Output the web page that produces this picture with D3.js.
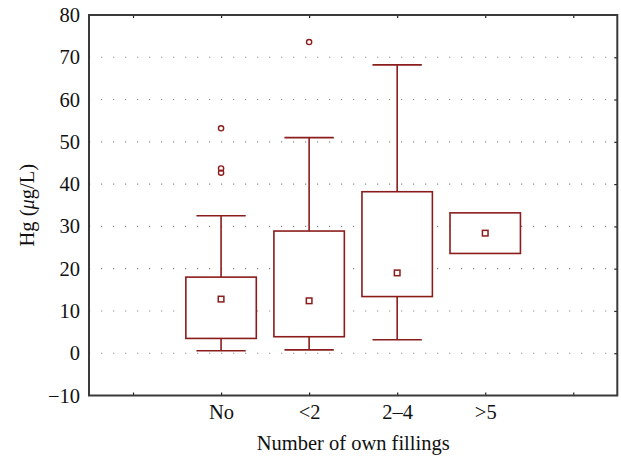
<!DOCTYPE html>
<html>
<head>
<meta charset="utf-8">
<script src="https://cdn.jsdelivr.net/npm/d3@7"></script>
<style>
  html, body { margin: 0; padding: 0; background: #fff; }
  svg { display: block; }
  text { font-family: "Liberation Serif", "DejaVu Serif", serif; fill: #111; }
</style>
</head>
<body>
<svg id="chart" width="621" height="457"></svg>
<script>
// ---- data ----
const categories = ["No", "<2", "2–4", ">5"];
const slotLabels = ["", "No", "<2", "2–4", ">5", ""];
const whiskerLow  = [0.6, 0.8, 3.2, 23.6];
const boxLow      = [3.5, 3.9, 13.4, 23.6];
const medians     = [12.8, 12.4, 19.0, 28.4];
const boxHigh     = [18.0, 28.9, 38.2, 33.2];
const whiskerHigh = [32.5, 51.0, 68.2, 33.2];
const outliers    = [[53.2, 43.7, 42.7], [73.6], [], []];
const yTicks = [-10, 0, 10, 20, 30, 40, 50, 60, 70, 80];
const gridValues = [0, 10, 20, 30, 40, 50, 60, 70];

// ---- layout ----
const pL = 89, pR = 617.3, pT = 15, pB = 395.5;
const color = "#8b1c1c";
const fs = "20.5px";
const svg = d3.select("#chart");

const x = d3.scaleLinear().domain([0.5, slotLabels.length + 0.5]).range([pL, pR]);
const y = d3.scaleLinear().domain([-10, 80]).range([pB, pT]);
const slotW = x(2) - x(1);
const catPos = i => x(i + 2);

// gridlines
svg.append("g").selectAll("line").data(gridValues).join("line")
  .attr("x1", pL).attr("x2", pR)
  .attr("y1", d => y(d)).attr("y2", d => y(d))
  .attr("stroke", "#8a8a8a").attr("stroke-width", 1.1)
  .attr("stroke-dasharray", "1.2,10.8");

// y axis labels
const yAxis = d3.axisLeft(y).tickValues(yTicks).tickSize(0).tickPadding(9)
  .tickFormat(d3.format("d"));
const gy = svg.append("g").attr("transform", `translate(${pL},0)`).call(yAxis);
gy.select(".domain").remove();
gy.selectAll("text").style("font-size", fs).attr("fill", "#111")
  .style("font-family", '"Liberation Serif", serif');

// right axis inward ticks
const rAxis = d3.axisRight(y).tickValues(gridValues).tickSize(-3).tickFormat("");
const gr = svg.append("g").attr("transform", `translate(${pR},0)`).call(rAxis);
gr.select(".domain").remove();
gr.selectAll("line").attr("stroke", "#222").attr("stroke-width", 1.2);

// bottom axis with category labels
const slotTicks = slotLabels.map((d, i) => i + 1);
const xAxis = d3.axisBottom(x).tickValues(slotTicks).tickSize(-3).tickPadding(9)
  .tickFormat((d, i) => slotLabels[i]);
const gx = svg.append("g").attr("transform", `translate(0,${pB})`).call(xAxis);
gx.select(".domain").remove();
gx.selectAll("line").attr("stroke", "#222").attr("stroke-width", 1.2);
gx.selectAll("text").style("font-size", fs).attr("fill", "#111")
  .style("font-family", '"Liberation Serif", serif');

// top axis inward ticks
const tAxis = d3.axisTop(x).tickValues(slotTicks).tickSize(-3).tickFormat("");
const gt = svg.append("g").attr("transform", `translate(0,${pT})`).call(tAxis);
gt.select(".domain").remove();
gt.selectAll("line").attr("stroke", "#222").attr("stroke-width", 1.2);

// frame
svg.append("rect").attr("x", pL).attr("y", pT)
  .attr("width", pR - pL).attr("height", pB - pT)
  .attr("fill", "none").attr("stroke", "#3a3a3a").attr("stroke-width", 2);

// boxes
const boxW = slotW * 0.8, capW = slotW * 0.56;
const g = svg.append("g");
categories.forEach((c, i) => {
  const cx = catPos(i);
  const gg = g.append("g").attr("stroke", color).attr("fill", "none").attr("stroke-width", 1.6);
  if (whiskerHigh[i] > boxHigh[i]) {
    gg.append("line").attr("x1", cx).attr("x2", cx).attr("y1", y(boxHigh[i])).attr("y2", y(whiskerHigh[i]));
    gg.append("line").attr("x1", cx - capW / 2).attr("x2", cx + capW / 2)
      .attr("y1", y(whiskerHigh[i])).attr("y2", y(whiskerHigh[i]));
  }
  if (whiskerLow[i] < boxLow[i]) {
    gg.append("line").attr("x1", cx).attr("x2", cx).attr("y1", y(boxLow[i])).attr("y2", y(whiskerLow[i]));
    gg.append("line").attr("x1", cx - capW / 2).attr("x2", cx + capW / 2)
      .attr("y1", y(whiskerLow[i])).attr("y2", y(whiskerLow[i]));
  }
  gg.append("rect").attr("x", cx - boxW / 2).attr("y", y(boxHigh[i]))
    .attr("width", boxW).attr("height", y(boxLow[i]) - y(boxHigh[i]))
    .attr("fill", "#fff");
  gg.append("rect").attr("x", cx - 2.8).attr("y", y(medians[i]) - 2.8)
    .attr("width", 5.6).attr("height", 5.6).attr("stroke-width", 1.5);
  gg.selectAll("circle").data(outliers[i]).join("circle")
    .attr("cx", cx).attr("cy", d => y(d)).attr("r", 2.6).attr("stroke-width", 1.4);
});

// axis titles
svg.append("text").attr("x", (pL + pR) / 2).attr("y", 450)
  .attr("text-anchor", "middle").style("font-size", fs)
  .text("Number of own fillings");

const yt = svg.append("text")
  .attr("transform", `translate(34,${(pT + pB) / 2}) rotate(-90)`)
  .attr("text-anchor", "middle").style("font-size", fs);
yt.append("tspan").text("Hg (");
yt.append("tspan").style("font-style", "italic").text("μ");
yt.append("tspan").text("g/L)");
</script>
</body>
</html>
